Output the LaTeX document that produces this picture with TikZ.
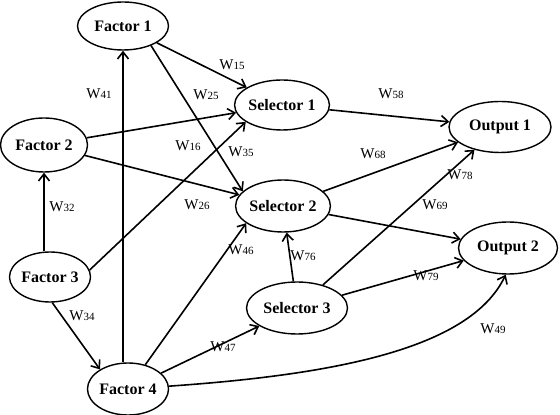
\documentclass[tikz,border=0pt]{standalone}
\usepackage{fontspec}
\setmainfont{Liberation Serif}
\usetikzlibrary{arrows.meta,shapes.geometric}

\newcommand{\wlab}[1]{W{\fontsize{5.5}{6}\selectfont #1}}

\begin{document}
\begin{tikzpicture}[x=0.5pt,y=-0.5pt,
          every node/.style={font=\fontsize{7.5}{8}\selectfont},
          unit/.style={ellipse,draw,line width=0.7pt,inner sep=0pt,
                       font=\bfseries\fontsize{8}{9}\selectfont},
          arr/.style={-{Straight Barb[length=3.5pt,width=5.5pt]},line width=0.8pt},
      ]
        \useasboundingbox (0,0) rectangle (560,415);

        % factors
        \node[unit,minimum width=45.5pt,minimum height=24pt] (f1) at (123,26) {Factor 1};
        \node[unit,minimum width=43.5pt,minimum height=27pt] (f2) at (44,145) {Factor 2};
        \node[unit,minimum width=39.5pt,minimum height=25pt] (f3) at (50,277) {Factor 3};
        \node[unit,minimum width=40pt,minimum height=26pt] (f4) at (128,389) {Factor 4};
        % selectors
        \node[unit,minimum width=45pt,minimum height=25pt] (s1) at (282,105) {Selector 1};
        \node[unit,minimum width=46.5pt,minimum height=26pt] (s2) at (283,206) {Selector 2};
        \node[unit,minimum width=50.5pt,minimum height=26pt] (s3) at (297,308) {Selector 3};
        % outputs
        \node[unit,minimum width=51pt,minimum height=25.5pt] (o1) at (500,127) {Output 1};
        \node[unit,minimum width=49.5pt,minimum height=26pt] (o2) at (508,248) {Output 2};

        \draw[arr] (f4.north -| f1.south) -- (f1.south);
        \draw[arr] (f3.north -| f2.south) -- (f2.south);
        \draw[arr] (f1) -- (s1);
        \draw[arr] (f1.-35) -- (s2.160);
        \draw[arr] (f2) -- (s1);
        \draw[arr] (f2) -- (s2);
        \draw[arr] (f3.10) -- (s1.205);
        \draw[arr] (f3.-85) -- (f4.145);
        \draw[arr] (f4) -- (s2.205);
        \draw[arr] (f4) -- (s3);
        \draw[arr] (f4) .. controls (330,375) and (470,350) .. (o2.265);
        \draw[arr] (s1) -- (o1);
        \draw[arr] (s2) -- (o1);
        \draw[arr] (s2) -- (o2);
        \draw[arr] (s3) -- (s2);
        \draw[arr] (s3) -- (o1);
        \draw[arr] (s3) -- (o2);

        % weights
        \node (w15) at (232,65) {\wlab{15}};
        \node (w41) at (99,94) {\wlab{41}};
        \node (w25) at (206,95) {\wlab{25}};
        \node (w16) at (188,146) {\wlab{16}};
        \node (w35) at (241,152) {\wlab{35}};
        \node (w32) at (62,207) {\wlab{32}};
        \node (w26) at (197,205) {\wlab{26}};
        \node (w58) at (391,94) {\wlab{58}};
        \node (w68) at (373,154) {\wlab{68}};
        \node (w78) at (460,175) {\wlab{78}};
        \node (w69) at (435,205) {\wlab{69}};
        \node (w76) at (303,256) {\wlab{76}};
        \node (w79) at (426,276) {\wlab{79}};
        \node (w49) at (493,329) {\wlab{49}};
        \node (w46) at (241,250) {\wlab{46}};
        \node (w34) at (82,316) {\wlab{34}};
        \node (w47) at (223,347) {\wlab{47}};
      \end{tikzpicture}
\end{document}
